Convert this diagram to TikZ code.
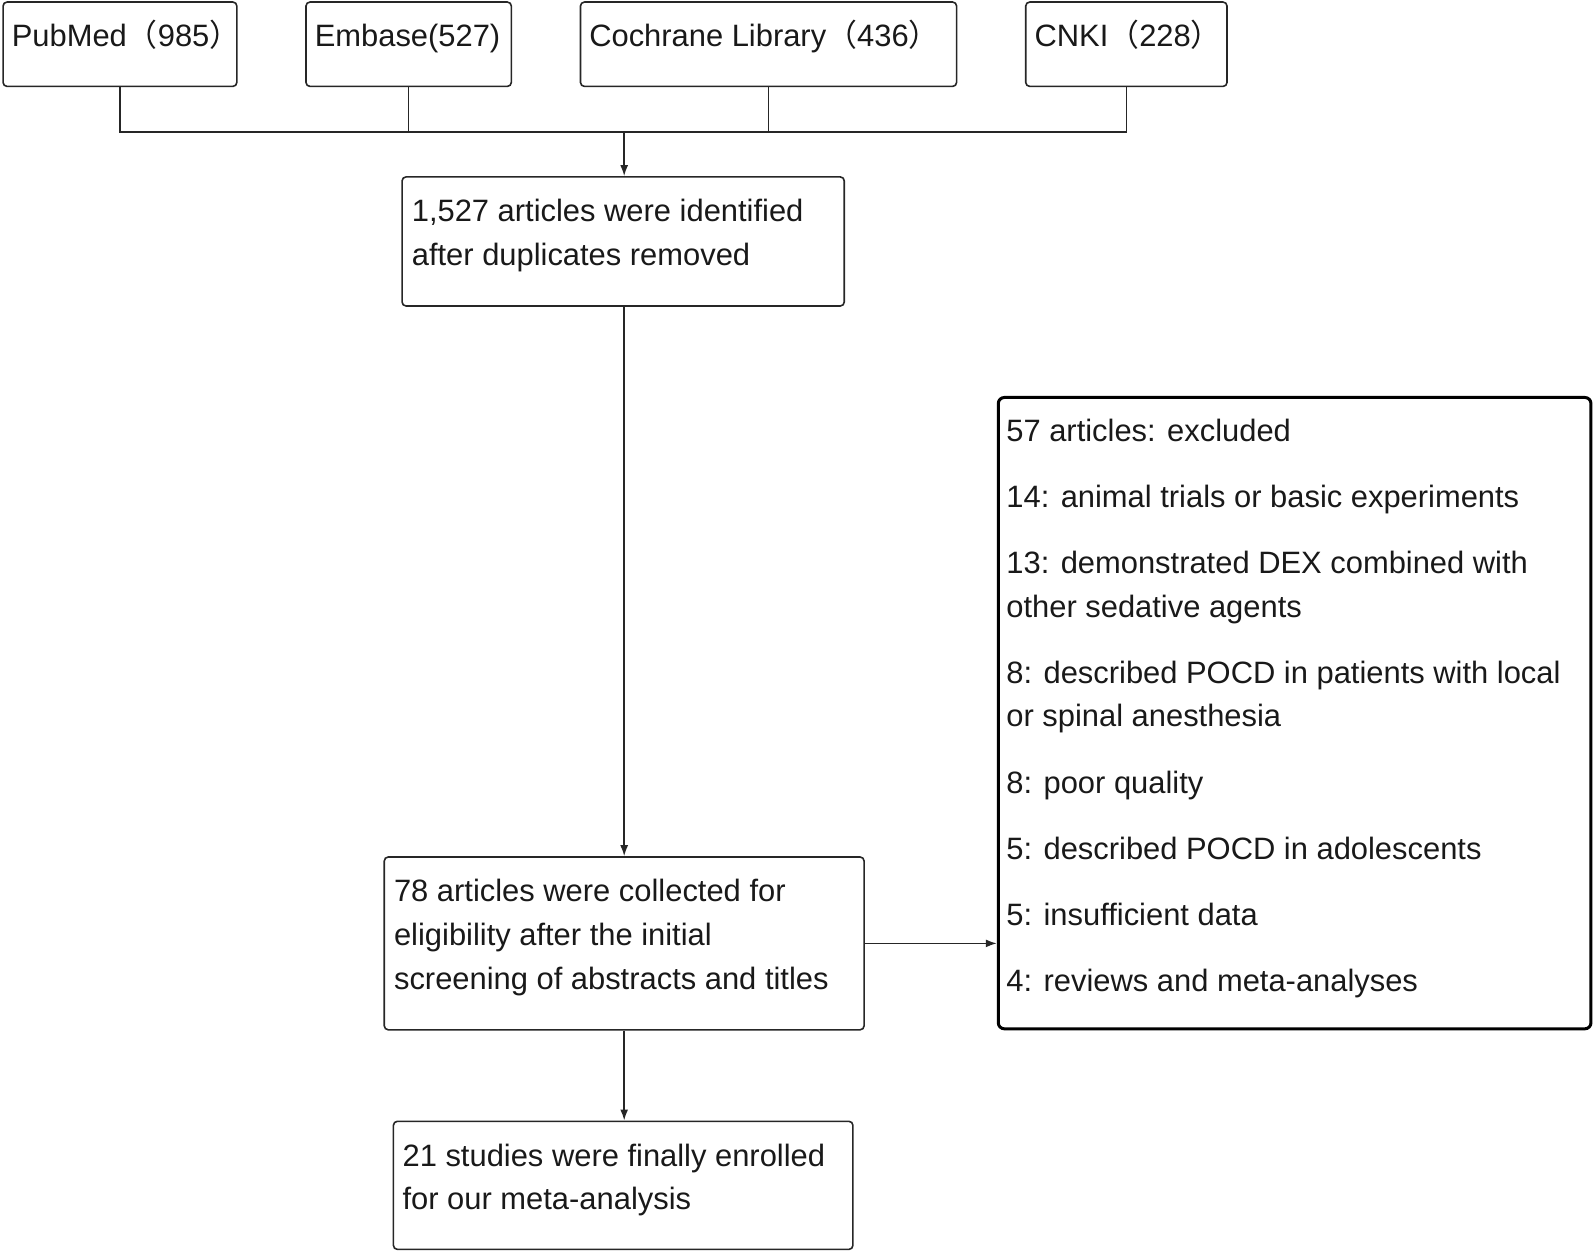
\documentclass[tikz,border=0pt]{standalone}
\usepackage{fontspec}
\setmainfont{Liberation Sans}
\newfontfamily\cjk{Noto Sans CJK SC}
\usetikzlibrary{arrows.meta,positioning}
\begin{document}
\begin{tikzpicture}[x=0.5083pt,y=-0.5083pt,
  box/.style={draw=black!85, line width=0.8pt, rounded corners=2pt, inner sep=0pt},
  exbox/.style={draw=black, line width=1.5pt, rounded corners=3pt, inner sep=0pt},
  txt/.style={inner sep=0pt, align=left, font=\fontsize{15.45pt}{21.86pt}\selectfont, text=black!90},
  srctxt/.style={txt, anchor=base west},
  line/.style={draw=black!85, line width=0.8pt},
  arr/.style={line, -{Latex[length=5.5pt,width=4pt]}}]
\useasboundingbox (0,0) rectangle (1568,1232);
% source boxes
\node[box, minimum width=116.9pt, minimum height=42.19pt] (pub) at (118,43.5) {};
\node[box, minimum width=102.68pt, minimum height=42.19pt] (emb) at (402,43.5) {};
\node[box, minimum width=188.07pt, minimum height=42.19pt] (coch) at (756,43.5) {};
\node[box, minimum width=100.64pt, minimum height=42.19pt] (cnki) at (1108,43.5) {};
\node[srctxt] (tpub) at ([xshift=4.6pt,yshift=-22.6pt]pub.north west) {PubMed{\cjk（}985{\cjk）}};
\node[srctxt] (temb) at ([xshift=4.6pt,yshift=-22.6pt]emb.north west) {Embase(527)};
\node[srctxt] (tcoch) at ([xshift=4.6pt,yshift=-22.6pt]coch.north west) {Cochrane Library{\cjk（}436{\cjk）}};
\node[srctxt] (tcnki) at ([xshift=4.6pt,yshift=-22.6pt]cnki.north west) {CNKI{\cjk（}228{\cjk）}};
% flow boxes
\node[box, minimum width=221.11pt, minimum height=64.55pt] (b2) at (613,237.5) {};
\node[box, minimum width=239.92pt, minimum height=86.41pt] (b3) at (614,928) {};
\node[box, minimum width=229.75pt, minimum height=64.05pt] (b4) at (613,1166) {};
\node[exbox, minimum width=296.34pt, minimum height=315.65pt] (ex) at (1273.5,701.5) {};
\node[txt, below right=11.4pt and 5.1pt of b2.north west] (tb2) {1,527 articles were identified\\after duplicates removed};
\node[txt, below right=11.4pt and 5.1pt of b3.north west] (tb3) {78 articles were collected for\\eligibility after the initial\\screening of abstracts and titles};
\node[txt, below right=11.4pt and 4.8pt of b4.north west] (tb4) {21 studies were finally enrolled\\for our meta-analysis};
\node[txt, below right=11.2pt and 4.6pt of ex.north west] (tex) {57 articles: excluded\\[11.2pt]
14: animal trials or basic experiments\\[11.2pt]
13: demonstrated DEX combined with\\other sedative agents\\[11.2pt]
8: described POCD in patients with local\\or spinal anesthesia\\[11.2pt]
8: poor quality\\[11.2pt]
5: described POCD in adolescents\\[11.2pt]
5: insufficient data\\[11.2pt]
4: reviews and meta-analyses};
% connectors
\coordinate (j) at (614,130);
\draw[line] (pub.south) |- (j);
\draw[line] (cnki.south) |- (j);
\draw[line] (emb.south) -- (emb.south |- j);
\draw[line] (coch.south) -- (coch.south |- j);
\draw[arr] (j) -- (j |- b2.north);
\draw[arr] (b2.south -| j) -- (j |- b3.north);
\draw[arr] (b3.south) -- (b3.south |- b4.north);
\draw[arr] (b3.east) -- (ex.west |- b3.east);
\end{tikzpicture}
\end{document}
